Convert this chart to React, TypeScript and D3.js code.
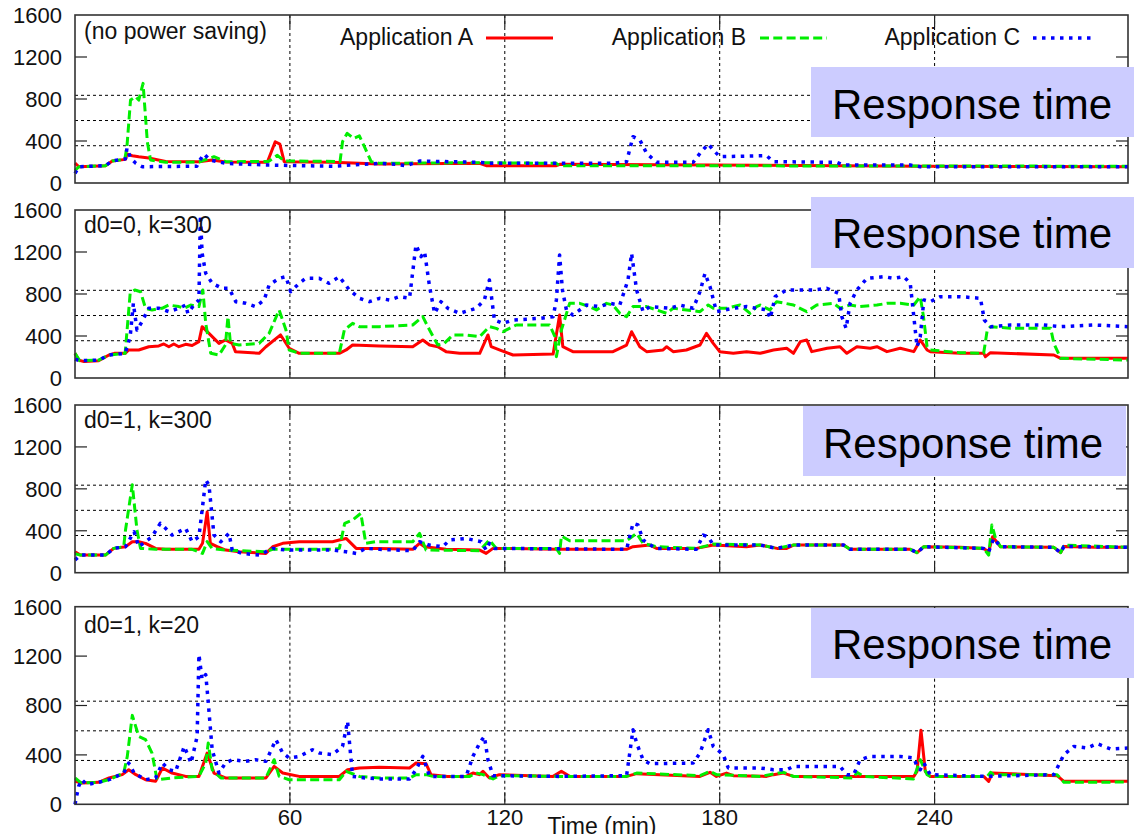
import React from 'react';
import * as d3 from 'd3';

type Pt = [number, number];

// ---- labels & ticks ----
const seriesNames = ['Application A', 'Application B', 'Application C'];
const xTickValues = [60, 120, 180, 240];
const yTickLabels = [0, 400, 800, 1200, 1600];
const yTickMarks = [400, 800, 1200];
const gridValues = [355, 595, 835];
const panelLabels = ['(no power saving)', 'd0=0, k=300', 'd0=1, k=300', 'd0=1, k=20'];
const badgeText = 'Response time';
const xAxisTitle = 'Time (min)';
const xMax = 294;
const yMax = 1600;

// ---- response time (ms) vs. time (min): no power saving ----
const noSavingA: Pt[] = [[0,190],[1.1,155],[8.5,165],[10.4,210],[14.1,225],[14.5,276],[16,260],[17.8,250],[20.6,238],[25.3,205],[34.6,203],[38.3,219],[42.1,200],[53.7,197],[55.9,393],[57.2,370],[58.4,203],[71.9,197],[85,181],[113,187],[114.8,165],[134.4,165],[135.3,178],[191,170],[236,160],[294,155]];
const noSavingB: Pt[] = [[0,120],[1.1,155],[8.5,165],[10.4,210],[13.9,225],[14.5,346],[15.5,790],[16.9,822],[17.8,790],[19,949],[20.2,390],[21.1,219],[25.3,197],[34.6,200],[38.8,251],[42.1,203],[54,205],[56.5,264],[58.4,210],[74,205],[74.7,394],[76,473],[77.8,425],[79.4,449],[80.8,346],[82.7,203],[85,187],[113,194],[134.4,187],[135.3,165],[294,160]];
const noSavingC: Pt[] = [[0,92],[1.1,155],[8.5,165],[10.4,210],[14.1,230],[14.5,330],[15.5,240],[17,187],[18.8,155],[34,160],[34.6,203],[36,276],[37.7,219],[42.1,187],[53.7,171],[71.9,160],[85,187],[89.6,178],[92.4,165],[96.2,209],[113,197],[115.7,187],[150.2,187],[154,203],[155.8,441],[157.7,410],[159.6,283],[162.4,197],[172.6,197],[174.5,283],[176.8,371],[178.2,314],[180,251],[193.1,260],[195,203],[212.7,197],[214.6,171],[233.2,171],[236,155],[294,155]];

// ---- d0=0, k=300 ----
const d0k300A: Pt[] = [[0,235],[1,171],[2.5,156],[6.6,165],[9.5,219],[11,235],[14,235],[15,267],[17.8,267],[20.6,298],[23.4,305],[24.8,324],[26.2,298],[27.6,324],[29,298],[30.9,321],[32.7,310],[34.6,346],[35.5,489],[37.4,425],[40.2,330],[42,362],[43.9,330],[44.8,251],[51.4,235],[53.3,298],[57.4,410],[59.8,283],[62.6,235],[73.8,235],[75.7,267],[77.5,314],[85,305],[94.3,298],[97.1,362],[99,314],[101.3,298],[103.6,251],[107.4,235],[113,235],[115.3,410],[116.2,298],[118.5,267],[122.3,219],[133.5,229],[135.3,600],[136.2,298],[139,251],[150.2,251],[154,314],[155.4,441],[157.7,298],[159.6,251],[164.2,267],[165.2,298],[167,251],[170.7,267],[174.5,314],[176.3,425],[178.2,330],[180,251],[183.8,235],[187.5,251],[191.3,235],[195,267],[198.7,283],[200.6,235],[202.5,346],[204.3,362],[205.7,251],[210,283],[213.6,298],[215.5,235],[218.3,298],[222,283],[223.9,298],[226.7,251],[230.4,283],[234.2,251],[236,362],[237.9,267],[238.8,251],[247.2,235],[253.7,235],[254.2,203],[255.6,241],[273.3,219],[275.2,187],[294,187]];
const d0k300B: Pt[] = [[0,235],[1.3,165],[6.6,170],[9.5,219],[14,235],[15.4,806],[16.7,838],[18.3,822],[19.7,664],[21.5,648],[24.3,664],[26.2,695],[29,680],[30.4,664],[32.3,695],[34.6,680],[35.7,838],[36.5,521],[37.9,235],[40.2,219],[42,314],[42.7,584],[43.4,330],[45.8,314],[51.4,330],[54.2,425],[57,648],[58.9,457],[59.8,267],[62.6,235],[73.8,235],[75.2,457],[77.5,521],[79.4,489],[85,489],[94.3,505],[97.1,584],[99,457],[101.3,314],[103.1,330],[105.5,410],[109.2,410],[113,394],[115.7,489],[117.6,473],[119.5,441],[123.2,505],[132.5,505],[134,394],[134.4,203],[135.8,457],[138.1,711],[140.9,711],[143.7,680],[145.6,648],[148.4,711],[150.2,695],[152.1,616],[154,584],[155.8,680],[159.6,680],[165.2,616],[167,664],[174.5,632],[176.8,695],[178.2,664],[182,664],[185.7,695],[188.5,616],[190.3,680],[191.3,695],[194,648],[195.9,727],[200.6,695],[204.3,632],[207.1,695],[211.8,711],[213.6,664],[216.4,695],[219.2,680],[223.9,695],[226.7,711],[230.4,711],[234.2,695],[236,775],[236.9,584],[237.9,298],[238.8,267],[247.2,241],[253.7,235],[254.7,457],[255.6,489],[261.2,473],[272.4,473],[273.3,330],[275.2,187],[294,171]];
const d0k300C: Pt[] = [[0,180],[1.3,165],[6.6,170],[9.5,219],[14,235],[15.4,394],[16.3,711],[17.3,457],[18.7,537],[20.6,664],[23.4,664],[26.2,632],[29,664],[30.9,695],[31.5,616],[33.2,695],[34.6,743],[35,1550],[35.5,1187],[36.5,997],[38.3,902],[41.1,854],[43,854],[44.9,727],[47.7,711],[50.4,680],[52.8,743],[54.2,886],[57,949],[58.9,965],[60.2,822],[62.6,902],[64.4,949],[68.2,949],[70.9,902],[73.8,965],[76.6,838],[79.4,759],[82.2,727],[85,759],[87.8,743],[90.6,775],[93.4,759],[95.2,1267],[96.6,1156],[97.6,1203],[99,870],[100.4,616],[102.2,727],[104.1,664],[107.4,616],[112,664],[114.3,743],[115.7,933],[117.1,552],[119.5,521],[122.3,552],[129.7,568],[133.5,584],[134.4,743],[135.3,1172],[136.1,838],[137.2,648],[139,600],[142.8,695],[146.5,680],[149.3,711],[152.1,695],[154.4,933],[155.4,1187],[156.8,838],[158.6,632],[160.5,680],[166.1,664],[168.9,695],[172.6,664],[174.5,822],[175.9,997],[177.3,870],[179.1,632],[183.8,664],[187.5,680],[193.2,648],[194.1,568],[195.5,775],[198.7,838],[206.2,838],[209.9,854],[213.2,806],[214.1,584],[215.3,473],[216.4,711],[218.3,838],[221.1,949],[225.8,965],[228.6,949],[231.4,965],[233.2,902],[234.2,584],[235.1,298],[236,394],[237,743],[238.8,727],[241.6,775],[247.2,775],[252.8,759],[253.9,552],[255.6,489],[261.2,505],[270.5,505],[275.2,489],[284.5,505],[294,489]];

// ---- d0=1, k=300 ----
const d1k300A: Pt[] = [[0,200],[1.5,168],[8.5,168],[10.8,232],[14.1,248],[16,296],[17.8,296],[19.7,280],[22.5,232],[25.3,223],[34.6,223],[35.6,280],[36.9,580],[37.8,280],[39.7,248],[42.1,216],[45.8,200],[53.3,184],[55.2,248],[58,280],[62.6,296],[71.9,296],[73.8,312],[75.7,327],[78.5,232],[85,232],[94.3,223],[96.2,280],[97.6,248],[103.6,223],[113,216],[114.8,184],[116.7,232],[122.3,232],[134.4,223],[154,223],[155.8,248],[160.5,264],[162.4,232],[173.5,232],[178.2,264],[187.5,248],[191.3,264],[196,232],[198.7,232],[200.6,264],[214.6,264],[216.4,223],[233.2,223],[235.1,191],[237,248],[247.2,242],[253.7,232],[255.1,200],[256.2,343],[258.4,248],[273.3,242],[275.2,191],[276.1,250],[285,242],[294,242]];
const d1k300B: Pt[] = [[0,180],[1.5,168],[8.5,168],[10.8,232],[13.6,248],[14.1,407],[16,840],[17.3,407],[18.3,232],[22.5,223],[32.7,223],[35.6,184],[36.9,296],[38.3,230],[42.1,216],[53.3,200],[55.2,223],[71.9,223],[73.8,232],[75.3,471],[77.5,502],[79.8,566],[81.2,280],[84,296],[94.3,296],[96.2,375],[98,216],[113,210],[115.7,312],[117.6,232],[134.4,232],[135.3,184],[135.8,350],[138.1,305],[154,305],[156.8,375],[158.6,280],[162.4,248],[173.5,232],[178.2,273],[191.3,264],[196,232],[200.6,264],[214.6,264],[216.4,223],[233.2,223],[235.1,191],[237,248],[253.7,232],[255.1,168],[256,455],[257,330],[258.4,248],[273.3,242],[275.2,191],[276.1,264],[294,242]];
const d1k300C: Pt[] = [[0,121],[1.5,168],[8.5,168],[10.8,232],[14.1,248],[16.5,391],[17.8,248],[21.5,343],[23.8,471],[25.3,423],[27.1,359],[30.9,423],[32.7,296],[34.6,343],[36.5,886],[37.4,836],[38.8,359],[40.7,296],[43,375],[43.9,216],[46.7,184],[51.4,168],[55.2,232],[59,216],[71.9,216],[75.7,200],[78.5,184],[81.2,232],[85,223],[94.3,210],[96.2,296],[98.9,264],[102.7,248],[104.6,312],[109.2,327],[113.4,296],[114.8,216],[115.7,280],[117.1,232],[154,223],[155.8,471],[157.2,455],[158.6,312],[161.4,248],[162.4,232],[173.5,223],[175.4,359],[176.8,343],[178.2,264],[191.3,264],[196,232],[200.6,264],[214.6,264],[216.4,223],[233.2,223],[235.1,191],[237,248],[253.7,232],[255.1,200],[256.5,327],[258.4,248],[273.3,242],[275.2,191],[276.1,250],[294,242]];

// ---- d0=1, k=20 ----
const d1k20A: Pt[] = [[0,186],[2,172],[6.6,178],[9.5,213],[13.2,240],[15,280],[17,240],[19.7,199],[22.5,186],[24.4,294],[27.1,253],[30.9,226],[34.6,226],[36.9,415],[38.8,253],[42,213],[53.3,213],[55.6,307],[58,253],[62.6,226],[73.8,226],[76.1,280],[79.4,294],[85,300],[93.4,294],[95.2,334],[98,329],[99.4,240],[104,226],[109.2,226],[111.1,253],[112.9,240],[113.9,267],[115.7,213],[118.5,240],[133.5,226],[135.8,267],[138.1,226],[154,226],[156.8,248],[174.5,226],[177.3,259],[179.1,226],[181.9,253],[183.8,232],[193.1,226],[195,240],[197.8,253],[200.6,226],[217.4,226],[234.2,226],[235.1,267],[236.2,600],[237.4,267],[238.8,226],[253.7,226],[255.1,186],[256.1,253],[274.2,232],[276.1,186],[294,186]];
const d1k20B: Pt[] = [[0,213],[1.8,172],[6.6,178],[9.5,200],[13.6,253],[14.6,388],[16,720],[17.8,550],[19.7,523],[21.5,415],[22.9,199],[27.1,213],[34.6,226],[36.5,334],[37.2,496],[38.3,280],[40.7,213],[53.3,213],[55.6,361],[57,226],[59.8,199],[73.8,199],[75.7,267],[79.4,226],[85,213],[93.4,213],[95.2,240],[98,240],[99.9,226],[110.2,226],[112,253],[113.9,240],[116.7,205],[118.5,232],[135.3,226],[154,226],[156.8,253],[174.5,232],[177.3,267],[179.1,240],[191.3,226],[197.8,259],[200.6,226],[217.4,213],[218.3,259],[220.2,226],[234.1,205],[236,361],[237.9,240],[238.8,226],[254.7,226],[255.6,259],[256.5,240],[274.2,240],[276.1,178],[294,180]];
const d1k20C: Pt[] = [[0,0],[1,145],[1.9,199],[3.3,159],[6.6,178],[9.5,200],[13.6,253],[15,334],[16.5,253],[19.7,199],[22.5,213],[24.4,334],[26.2,280],[28.1,267],[30.5,469],[32.4,334],[34.1,550],[34.6,1212],[35.5,1010],[36.5,1050],[36.9,928],[38.3,442],[40.2,253],[42,334],[43.9,361],[47.6,348],[50.4,361],[53.3,348],[56.1,523],[58,415],[59.8,375],[62.6,388],[66.3,442],[68.2,415],[71.9,402],[74.7,469],[76.1,672],[77.5,226],[81.2,213],[85,205],[93.4,205],[95.2,280],[97.1,388],[99,226],[109.2,226],[111.1,388],[113,496],[114.3,550],[115.3,361],[116.7,232],[135.3,226],[154,232],[155.8,604],[156.8,496],[158.6,361],[160.5,329],[172.6,334],[174.5,415],[176.8,604],[178.2,469],[181,402],[182.4,294],[191.3,294],[195,280],[198.7,280],[200.6,307],[213.6,307],[215.5,240],[217.4,240],[219.2,361],[222,388],[230.4,388],[234.2,375],[235.1,307],[236,280],[237,334],[238.8,240],[254.7,226],[273.3,240],[276.1,402],[278.9,469],[282.6,456],[285.4,491],[289.2,448],[294,456]];

const panelSeries: Pt[][][] = [
  [noSavingA, noSavingB, noSavingC],
  [d0k300A, d0k300B, d0k300C],
  [d1k300A, d1k300B, d1k300C],
  [d1k20A, d1k20B, d1k20C],
];

// ---- layout ----
const W = 1134;
const H = 834;
const plotLeft = 75;
const plotRight = 1128;
const tickLen = 12;
const FONT = "'Liberation Sans', Arial, Helvetica, sans-serif";

const panelBoxes = [
  { top: 15, bottom: 183, labelDy: 24, badge: { x: 811, y: 67, w: 323, h: 70, tx: 832, ty: 119 } },
  { top: 210, bottom: 378, labelDy: 23, badge: { x: 811, y: 197, w: 323, h: 71, tx: 832, ty: 248 } },
  { top: 405, bottom: 572.7, labelDy: 23, badge: { x: 803, y: 406, w: 323, h: 70, tx: 823, ty: 458 } },
  { top: 606.7, bottom: 804.3, labelDy: 26, badge: { x: 811, y: 608, w: 323, h: 70, tx: 832, ty: 659 } },
];

const seriesStyles = [
  { color: '#ff0000', width: 3, dash: undefined as string | undefined },
  { color: '#00ee00', width: 3, dash: '9 4.3' },
  { color: '#0000ff', width: 3.5, dash: '3.5 5.5' },
];

const legendItems = [
  { textEnd: 473, x1: 486, x2: 553 },
  { textEnd: 746, x1: 760, x2: 827 },
  { textEnd: 1020, x1: 1033, x2: 1095 },
];
const legendY = 38;

const x = d3.scaleLinear().domain([0, xMax]).range([plotLeft, plotRight]);

function Panel({ idx }: { idx: number }) {
  const box = panelBoxes[idx];
  const y = d3.scaleLinear().domain([0, yMax]).range([box.bottom, box.top]);
  const line = d3
    .line<Pt>()
    .x((d) => x(d[0]))
    .y((d) => y(d[1]));
  const isLast = idx === panelBoxes.length - 1;
  return (
    <g>
      {/* grid */}
      {gridValues.map((g) => (
        <line key={'hg' + g} x1={plotLeft} x2={plotRight} y1={y(g)} y2={y(g)} stroke="#000" strokeWidth={1} strokeDasharray="3 3" />
      ))}
      {xTickValues.map((t) => (
        <line key={'vg' + t} x1={x(t)} x2={x(t)} y1={box.top} y2={box.bottom} stroke="#000" strokeWidth={1} strokeDasharray="3 3" />
      ))}
      {/* tick marks */}
      {yTickMarks.map((v) => (
        <g key={'yt' + v}>
          <line x1={plotLeft} x2={plotLeft + tickLen} y1={y(v)} y2={y(v)} stroke="#222" strokeWidth={1.2} />
          <line x1={plotRight - tickLen} x2={plotRight} y1={y(v)} y2={y(v)} stroke="#222" strokeWidth={1.2} />
        </g>
      ))}
      {xTickValues.map((t) => (
        <g key={'xt' + t}>
          <line x1={x(t)} x2={x(t)} y1={box.bottom} y2={box.bottom - tickLen} stroke="#222" strokeWidth={1.2} />
          <line x1={x(t)} x2={x(t)} y1={box.top} y2={box.top + tickLen} stroke="#222" strokeWidth={1.2} />
        </g>
      ))}
      {/* series: A, then B, then C on top */}
      {panelSeries[idx].map((s, i) => (
        <path
          key={'s' + i}
          d={line(s) || ''}
          fill="none"
          stroke={seriesStyles[i].color}
          strokeWidth={seriesStyles[i].width}
          strokeDasharray={seriesStyles[i].dash}
          strokeLinejoin="round"
        />
      ))}
      {/* frame */}
      <rect x={plotLeft} y={box.top} width={plotRight - plotLeft} height={box.bottom - box.top} fill="none" stroke="#333" strokeWidth={1.6} />
      {/* y labels */}
      {yTickLabels.map((v) => (
        <text key={'yl' + v} x={62} y={y(v)} dy="0.36em" textAnchor="end" fontSize={22} fill="#111">
          {v}
        </text>
      ))}
      {/* panel label */}
      <text x={84} y={box.top + box.labelDy} fontSize={23} fill="#111">
        {panelLabels[idx]}
      </text>
      {/* badge */}
      <rect x={box.badge.x} y={box.badge.y} width={box.badge.w} height={box.badge.h} fill="#ccccff" />
      <text x={box.badge.tx} y={box.badge.ty} fontSize={42} fill="#000">
        {badgeText}
      </text>
      {isLast &&
        xTickValues.map((t) => (
          <text key={'xl' + t} x={x(t)} y={825} textAnchor="middle" fontSize={22} fill="#111">
            {t}
          </text>
        ))}
    </g>
  );
}

export default function App() {
  return (
    <svg
      width={W}
      height={H}
      viewBox={`0 0 ${W} ${H}`}
      style={{ position: 'absolute', left: 0, top: 0, background: '#fff', fontFamily: FONT }}
    >
      <rect x={0} y={0} width={W} height={H} fill="#fff" />
      {panelBoxes.map((_, i) => (
        <Panel key={i} idx={i} />
      ))}
      {/* legend */}
      {legendItems.map((it, i) => (
        <g key={'lg' + i}>
          <text x={it.textEnd} y={legendY + 7} textAnchor="end" fontSize={23} fill="#111">
            {seriesNames[i]}
          </text>
          <line
            x1={it.x1}
            x2={it.x2}
            y1={legendY}
            y2={legendY}
            stroke={seriesStyles[i].color}
            strokeWidth={seriesStyles[i].width}
            strokeDasharray={seriesStyles[i].dash}
          />
        </g>
      ))}
      <text x={602} y={834} textAnchor="middle" fontSize={23} fill="#111">
        {xAxisTitle}
      </text>
    </svg>
  );
}
